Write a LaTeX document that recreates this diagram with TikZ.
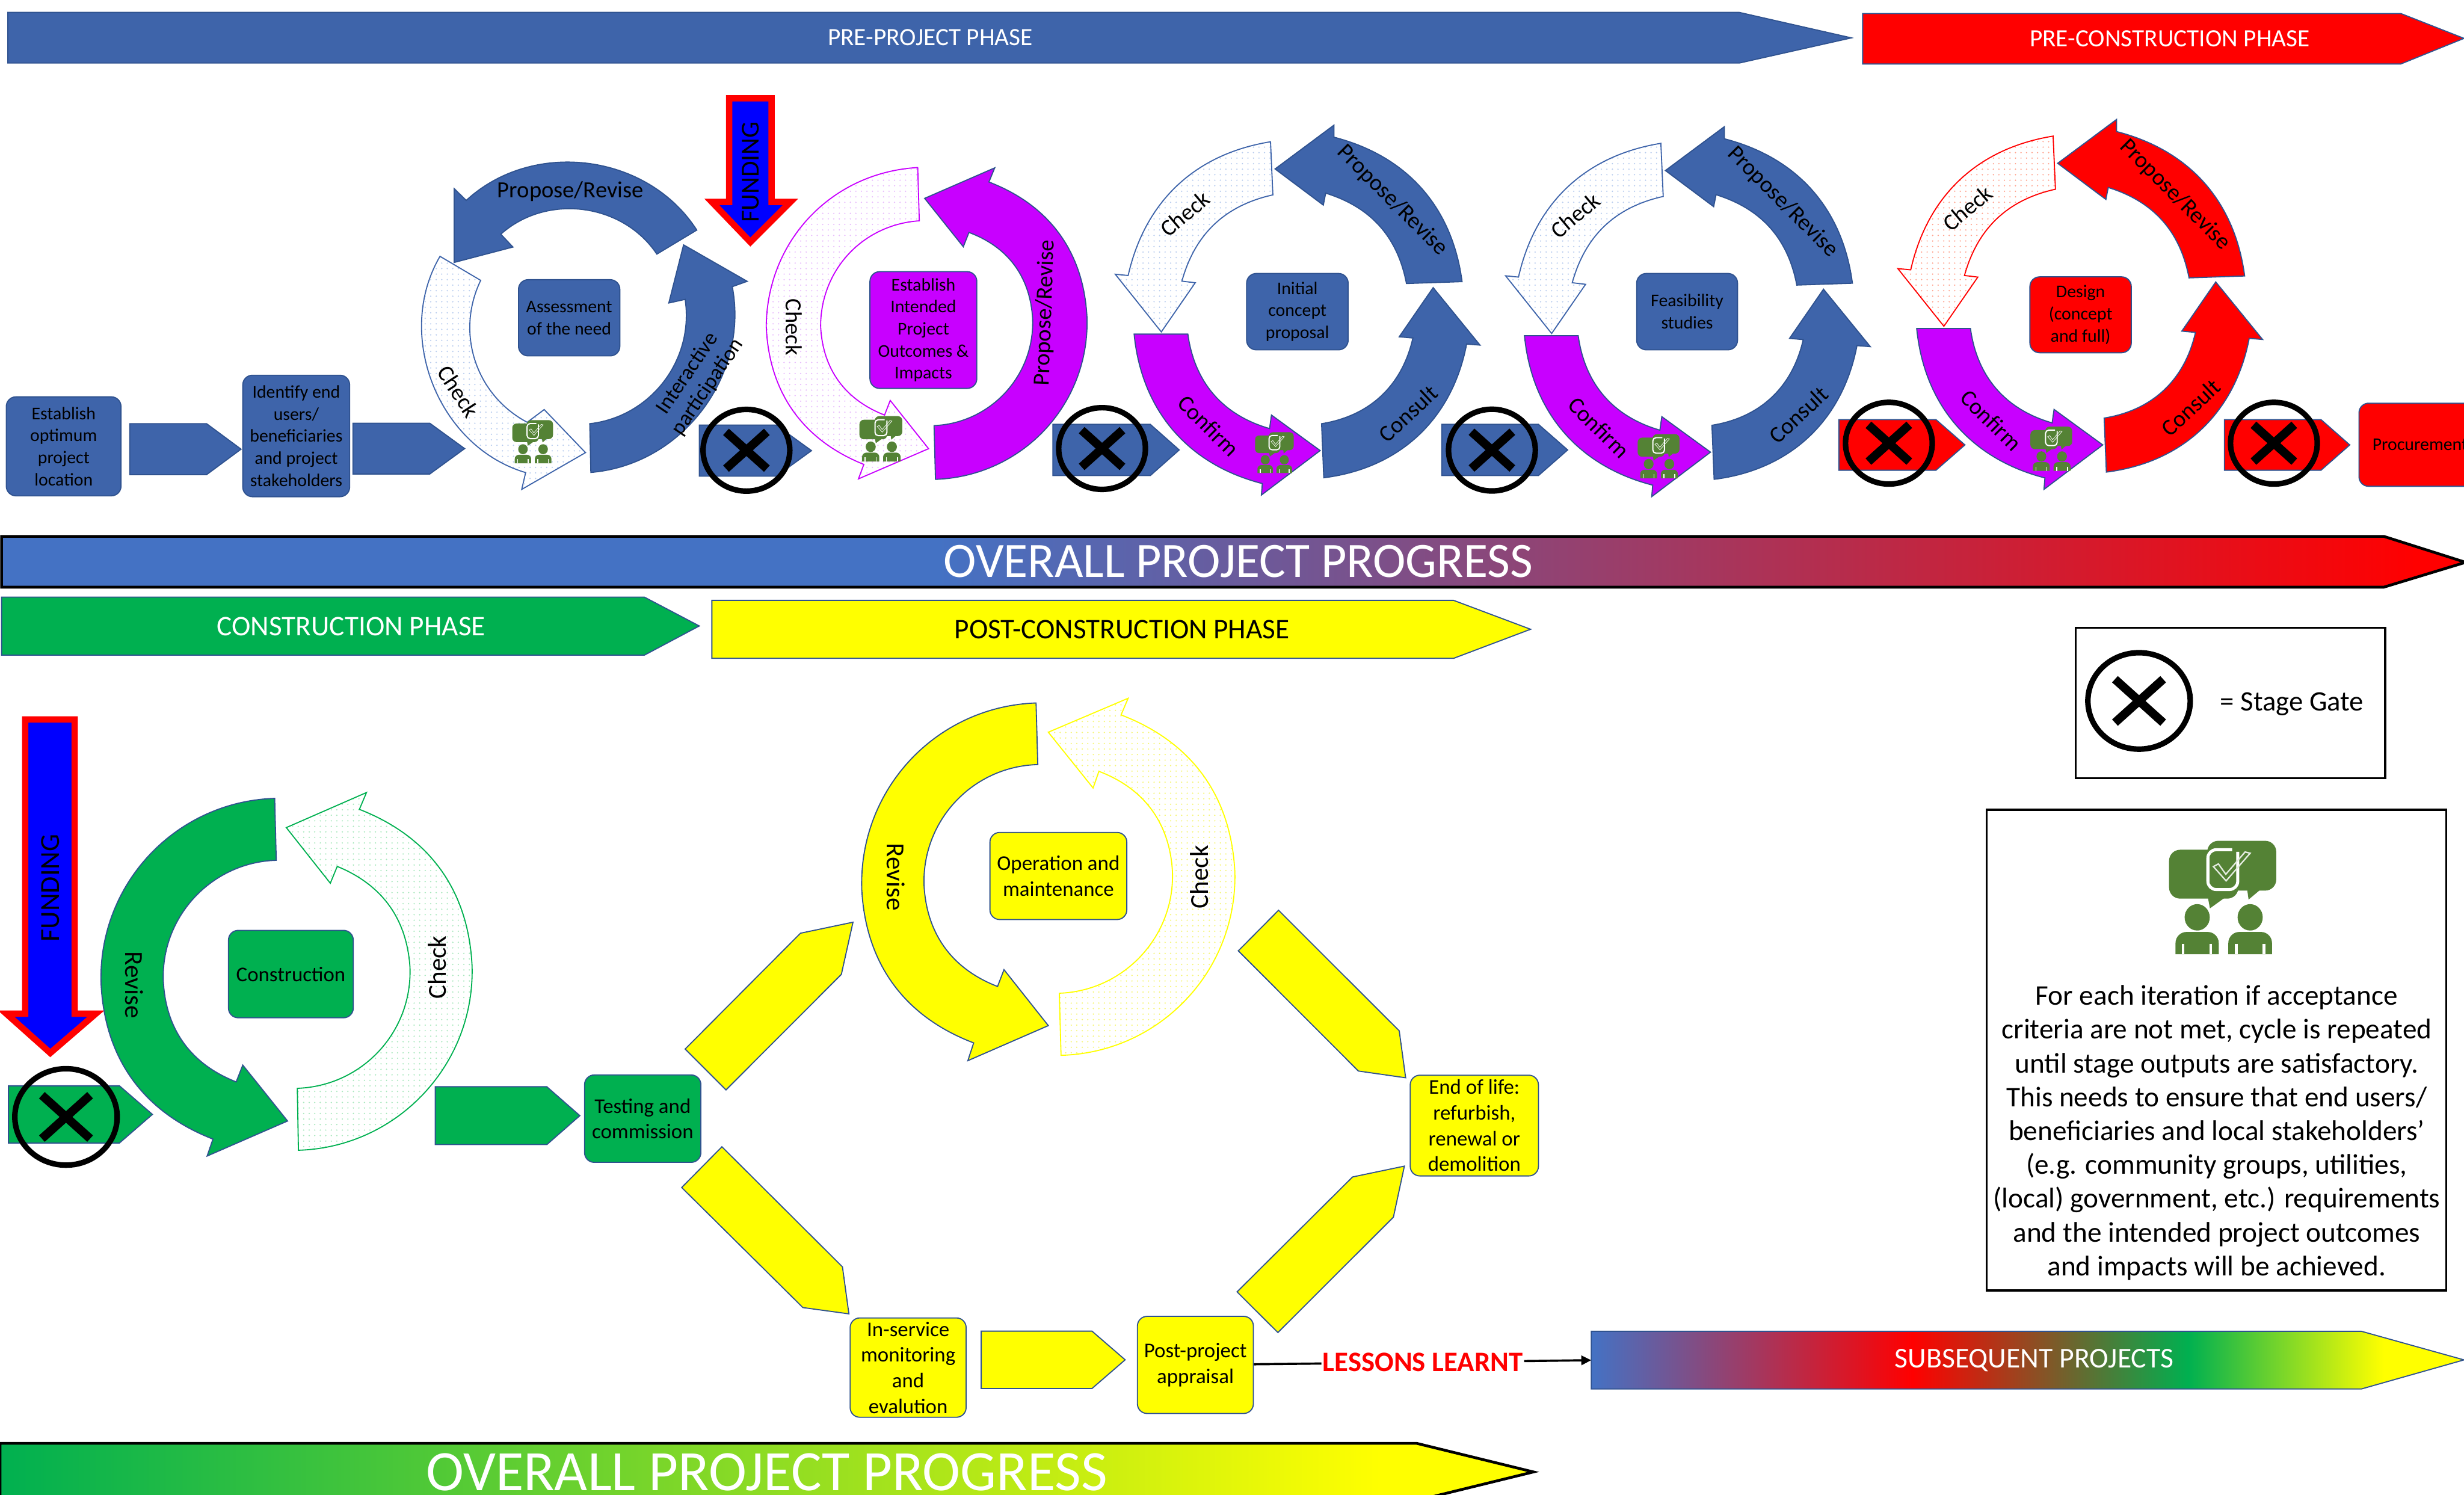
\documentclass[tikz,border=0pt]{standalone}
\usepackage{fontspec}
\setmainfont{Carlito}
\usepackage{xcolor}
\usetikzlibrary{arrows.meta,patterns.meta}
\definecolor{ringblue}{RGB}{62,100,170}
\definecolor{ringline}{RGB}{47,82,143}
\definecolor{barblue}{HTML}{4472C4}
\definecolor{purplemag}{RGB}{200,0,255}
\definecolor{stagegreen}{HTML}{00B050}
\definecolor{stageyellow}{HTML}{FFFF00}
\definecolor{icongreen}{HTML}{548235}
\definecolor{bluedot}{RGB}{185,205,238}
\definecolor{magdot}{RGB}{232,190,252}
\definecolor{reddot}{RGB}{255,165,145}
\definecolor{greendot}{RGB}{170,232,190}
\definecolor{yellowdot}{RGB}{245,245,120}
\pgfdeclarehorizontalshading{overallshade}{100bp}{color(0bp)=(barblue); color(44bp)=(barblue); color(74bp)=(red); color(100bp)=(red)}
\pgfdeclarehorizontalshading{buildshade}{100bp}{color(0bp)=(stagegreen); color(25bp)=(stagegreen); color(70bp)=(stageyellow); color(100bp)=(stageyellow)}
\pgfdeclarehorizontalshading{nextshade}{100bp}{color(0bp)=(barblue); color(25bp)=(barblue); color(43.4bp)=(red); color(59.2bp)=(stagegreen); color(70.4bp)=(stageyellow); color(100bp)=(stageyellow)}
\begin{document}
\begin{tikzpicture}[
    x=0.02cm, y=-0.02cm,
    plate/.style={fill=#1, draw=ringline, line width=0.4pt},
    ringarrow/.style={fill=#1, draw=ringline, line width=0.4pt},
    checkarrow/.style 2 args={draw=#1, line width=0.4pt, pattern={Dots[distance=2pt, radius=0.27pt]}, pattern color=#2},
    stagebox/.style n args={3}{fill=#1, draw=ringline, line width=0.4pt, rounded corners=3.5pt, align=center, inner sep=0pt, font=\fontsize{6.5}{8}\selectfont, minimum width=#2*0.02cm, minimum height=#3*0.02cm},
    biggerbox/.style={font=\fontsize{7.6}{9.3}\selectfont},
    looplabel/.style={font=\fontsize{8.4}{9.6}\selectfont, inner sep=0pt, align=center},
    biglabel/.style={font=\fontsize{9.4}{11}\selectfont, inner sep=0pt},
    barlabel/.style={font=\fontsize{9}{10}\selectfont, text=white, inner sep=0pt},
    fundarrow/.style={fill=blue, draw=red, line width=2.3pt, miter limit=10},
    stagegate/.pic={
      \draw[black, line width=2pt] (0,0) ellipse [x radius=27.6, y radius=26];
      \draw[black, line width=3.1pt] (-13,-11.7) -- (13,11.7) (-13,11.7) -- (13,-11.7);
    },
    talkicon/.pic={
      \begin{scope}[scale=#1]
        \fill[icongreen, rounded corners=#1*4pt] (-34.2,-30.3) rectangle (9.9,0.8);
        \fill[icongreen] (-9.5,0) -- (-8.2,7) -- (1.5,0) -- cycle;
        \fill[icongreen, rounded corners=#1*4pt] (-9.9,-36) rectangle (34,-4.3);
        \fill[icongreen] (15.5,-5) -- (16.4,1.4) -- (24,-5) -- cycle;
        \draw[white, line width=#1*1.1pt, rounded corners=#1*3pt] (9.5,-29) -- (9.5,-5) -- (-9.5,-5) -- (-9.5,-30.3) -- (6,-30.3);
        \draw[white!85!icongreen, line width=#1*0.5pt] (-6,-19.6) -- (2.1,-10.5) -- (17.4,-28.1) -- (14.2,-28.9) -- (1.9,-14.7) -- (-2.8,-21.3) -- cycle;
        \fill[icongreen] (-16.3,12.7) ellipse [x radius=8, y radius=8.4] (17.4,12.7) ellipse [x radius=8, y radius=8.4];
        \fill[icongreen] (-30.1,36.2) [rounded corners=#1*4pt] -- (-30.1,22) -- (-2.6,22) [sharp corners] -- (-2.6,36.2) -- cycle;
        \fill[icongreen] (3.5,36.2) [rounded corners=#1*4pt] -- (3.5,22) -- (31.3,22) [sharp corners] -- (31.3,36.2) -- cycle;
        \draw[white, line width=#1*0.9pt] (-25.2,29.5) -- (-25.2,36.2) (-7.6,29.5) -- (-7.6,36.2) (8.6,29.5) -- (8.6,36.2) (26.2,29.5) -- (26.2,36.2);
      \end{scope}
    }
  ]
    \useasboundingbox (0,0) rectangle (1568,951);

    \path[plate=ringblue] (5,7.9) -- (1106.9,7.9) -- (1178.2,24.1) -- (1106.9,40.1) -- (5,40.1) -- cycle;
    \node[barlabel] (preproject) at (592,24) {PRE-PROJECT PHASE};
    \path[plate=red] (1185.3,8.6) -- (1527.8,8.6) -- (1568,24.4) -- (1527.8,40.7) -- (1185.3,40.7) -- cycle;
    \node[barlabel] (preconstruction) at (1380.8,24.7) {PRE-CONSTRUCTION PHASE};

    \foreach \xa/\xb/\xc/\ya/\yb/\col in {82.6/131.5/153.4/269.6/302/ringblue, 224.6/273.5/295.7/269.3/301.6/ringblue, 445/494/516.4/270.5/303/ringblue, 670/732/750.4/270/302.6/ringblue, 917.5/979/997.6/270/302.6/ringblue, 1170.2/1232/1250.4/267/299.2/red, 1415.5/1477/1495.3/267/299.2/red, 5.4/76/97/690.9/727.3/stagegreen, 277/348/369/691.5/728.3/stagegreen, 624.4/694.9/716/847/883.5/stageyellow}
      \path[plate=\col] (\xa,\ya) -- (\xb,\ya) -- (\xc,{(\ya+\yb)/2}) -- (\xb,\yb) -- (\xa,\yb) -- cycle;

    \node[stagebox={ringblue}{73}{63}] (location) at (40.5,284) {Establish\\optimum\\project\\location};
    \node[stagebox={ringblue}{68}{77.3}] (identify) at (188.5,277.4) {Identify end\\users/\\beneficiaries\\and project\\stakeholders};

    \path[ringarrow=ringblue] (443.4,146.4) to[bend right=50] (296.7,127.5) -- (289,120) -- (289,167) -- (326.4,157.2) -- (318.7,149) to[bend left=49] (418,161.7) -- cycle;
    \path[ringarrow=ringblue] (376,300.6) to[bend right=48] (466,182.4) -- (475.5,179) -- (435,155.8) -- (425.6,192.8) -- (436,190.5) to[bend left=46] (375.3,269.6) -- cycle;
    \path[checkarrow={ringblue}{bluedot}] (280,163.1) to[bend right=52] (334.5,300.7) -- (332,311.4) -- (372.6,288) -- (346.3,260.6) -- (335.5,268.7) to[bend left=44] (305.9,178.4) -- cycle;
    \node[stagebox={ringblue}{64.5}{48.5}] (assessment) at (362.2,202.2) {Assessment\\of the need};
    \node[looplabel] (assessrevise) at (363,122) {Propose/Revise};
    \node[looplabel, rotate=-57] (assesscheck) at (291.7,249) {Check};
    \node[looplabel, rotate=56, font=\fontsize{7.8}{8.8}\selectfont] (assessinteract) at (444,242) {Interactive\\participation};
    \pic (talkone) at (339,281) {talkicon=0.38};

    \path[fundarrow] (464,62.5) -- (491,62.5) -- (491,128.5) -- (503,128.5) -- (477.5,154) -- (453,128.5) -- (464,128.5) -- cycle;
    \node[font=\fontsize{9.4}{11}\selectfont, inner sep=0pt, rotate=90] (fundingone) at (477.5,109.5) {FUNDING};

    \path[checkarrow={purplemag}{magdot}] (584,106.6) to[bend right=43] (487.6,207.4) to[bend right=33] (549.7,295.5) -- (546.3,304.7) -- (590.9,285.5) -- (566.5,254.8) -- (562.9,264.1) to[bend left=33] (522.2,207.4) to[bend left=43] (585,140.5) -- cycle;
    \path[ringarrow=purplemag] (595.3,305) to[bend right=45] (691.7,201.8) to[bend right=33] (629.3,115.8) -- (633,106.8) -- (588.4,126.2) -- (613,157) -- (616.6,147.9) to[bend left=33] (657.1,202.5) to[bend left=45] (594.4,270.8) -- cycle;
    \node[stagebox={purplemag}{68}{74.3}] (outcomes) at (587.6,210) {Establish\\Intended\\Project\\Outcomes \&\\Impacts};
    \node[looplabel, rotate=-90] (outcomecheck) at (505.1,208.1) {Check};
    \node[looplabel, rotate=88] (outcomerevise) at (665.1,199) {Propose/Revise};
    \pic (talktwo) at (560.6,279.2) {talkicon=0.4};

    \foreach \k/\dx/\dy/\ringcol/\dotcol in {a/0/0/ringblue/bluedot, b/248.4/1/ringblue/bluedot, c/498/-3.6/red/reddot}{
      \begin{scope}[shift={(\dx,\dy)}]
        \path[ringarrow=\ringcol] (930.4,179.2) to[bend right=34] (848.9,87.3) -- (848.9,79.6) -- (811.4,107.5) -- (842.1,130.5) -- (843.6,122.9) to[bend left=31] (895,180.4) -- cycle;
        \path[checkarrow={\ringcol}{\dotcol}] (808.5,90.2) to[bend right=34] (717.9,175.3) -- (709.7,174.5) -- (739,211.2) -- (760.6,179.9) -- (752.1,178.9) to[bend left=31] (810,124) -- cycle;
        \path[ringarrow=purplemag] (721.7,212.6) to[bend right=35] (803.3,307.7) -- (802.7,315) -- (840.1,286.7) -- (809.1,264.1) -- (807.9,272.7) to[bend left=33] (755.9,212.6) -- cycle;
        \path[ringarrow=\ringcol] (842.4,304) to[bend right=36] (933.3,218.9) -- (941.8,219.6) -- (912,183) -- (890.4,214.3) -- (899.1,215.1) to[bend left=34] (841,269.6) -- cycle;
        \node[looplabel, rotate=-45] (revise\k) at (886,127.5) {Propose/Revise};
        \node[looplabel, rotate=40] (check\k) at (754,136) {Check};
        \node[looplabel, rotate=-45] (confirm\k) at (769,271) {Confirm};
        \node[looplabel, rotate=43] (consult\k) at (896,263) {Consult};
      \end{scope}
    }
    \node[stagebox={ringblue}{64.6}{48.6}] (initial) at (825.6,198.3) {Initial\\concept\\proposal};
    \node[stagebox={ringblue}{64.2}{48.6}] (feasibility) at (1073.6,198.3) {Feasibility\\studies};
    \node[stagebox={red}{64.5}{48.3}] (design) at (1324,200.3) {Design\\(concept\\and full)};
    \pic (talkthree) at (811,288) {talkicon=0.36};
    \pic (talkfour) at (1055.5,290.3) {talkicon=0.39};
    \pic (talkfive) at (1305.4,285.5) {talkicon=0.39};
    \node[stagebox={red}{77.7}{52.9}] (procurement) at (1540,283) {Procurement};

    \foreach \k/\gx/\gy in {a/475/286.5, b/701.3/285.4, c/949.4/286.4, d/1202/282, e/1447/282}
      \pic (gate\k) at (\gx,\gy) {stagegate};

    \path[draw=black, line width=1pt, shading=overallshade] (1,341.3) -- (1517,341.3) -- (1569,357.8) -- (1517,373.6) -- (1,373.6) -- cycle;
    \node[barlabel, font=\fontsize{17.9}{20}\selectfont] (overallone) at (788,357.3) {OVERALL PROJECT PROGRESS};

    \path[plate=stagegreen] (1,379.9) -- (410,379.9) -- (445,398.3) -- (410,416.9) -- (1,416.9) -- cycle;
    \node[barlabel, font=\fontsize{10.3}{12}\selectfont] (construction) at (223.5,398.5) {CONSTRUCTION PHASE};
    \path[plate=stageyellow] (453,382) -- (925,382) -- (974,400.4) -- (925,418.9) -- (453,418.9) -- cycle;
    \node[barlabel, text=black, font=\fontsize{10.3}{12}\selectfont] (postconstruction) at (714,400.5) {POST-CONSTRUCTION PHASE};

    \path[fundarrow] (16,457.8) -- (47.5,457.8) -- (47.5,645) -- (61,645) -- (32,670) -- (4,645) -- (16,645) -- cycle;
    \node[font=\fontsize{10}{12}\selectfont, inner sep=0pt, rotate=90] (fundingtwo) at (32,565) {FUNDING};
    \pic[scale=1.18] (gatef) at (42,710.7) {stagegate};

    \path[ringarrow=stagegreen] (174.8,508) to[bend right=45] (64.3,625.7) to[bend right=33] (135.5,724.8) -- (131.8,735.6) -- (183,713.3) -- (154.5,677.7) -- (150.3,688.4) to[bend left=33] (103.9,623.7) to[bend left=45] (175.8,547.4) -- cycle;
    \path[checkarrow={stagegreen}{greendot}] (189.9,731.9) to[bend right=45] (300.4,614.6) to[bend right=33] (228.7,515) -- (233.2,504.3) -- (182.2,526.6) -- (210.2,562) -- (214.6,551.3) to[bend left=32] (260.9,615.6) to[bend left=45] (189.2,692.5) -- cycle;
    \node[stagebox={stagegreen}{79.4}{55.6}, biggerbox] (build) at (185.1,619.8) {Construction};
    \node[biglabel, rotate=-90] (buildrevise) at (85.3,626.7) {Revise};
    \node[biglabel, rotate=90] (buildcheck) at (278.2,615.6) {Check};

    \node[stagebox={stagegreen}{74}{55.6}, biggerbox] (testing) at (409,711.8) {Testing and\\commission};

    \path[ringarrow=stageyellow] (659.3,447.3) to[bend right=45] (548.4,566.2) to[bend right=33] (619.6,663.6) -- (615.9,674.9) -- (667.1,652.6) -- (638.9,617) -- (634.8,627.7) to[bend left=33] (588,562.9) to[bend left=45] (660.4,486.5) -- cycle;
    \path[checkarrow={stageyellow}{yellowdot}] (675.2,671.5) to[bend right=45] (785.8,554.6) to[bend right=33] (713.4,454.9) -- (717.9,444.3) -- (667.1,465.9) -- (695.6,501.4) -- (699.3,490.8) to[bend left=33] (746.1,554.6) to[bend left=45] (674.1,632) -- cycle;
    \node[stagebox={stageyellow}{87.1}{55.4}, biggerbox] (operation) at (673.5,557.4) {Operation and\\maintenance};
    \node[biglabel, rotate=-90] (operrevise) at (570,558) {Revise};
    \node[biglabel, rotate=90] (opercheck) at (763,558) {Check};

    \path[plate=stageyellow] (436,667.5) -- (509.4,593.8) -- (542.8,586.8) -- (535.4,620) -- (462,693.5) -- cycle;
    \path[plate=stageyellow] (459.4,729.7) -- (536.1,806.1) -- (540.2,836) -- (510.9,832) -- (433.8,755.6) -- cycle;
    \path[plate=stageyellow] (813.6,579.2) -- (890.4,655.9) -- (894.5,685.8) -- (864.4,681.5) -- (788,605) -- cycle;
    \path[plate=stageyellow] (787.2,822) -- (860.7,748.9) -- (893.7,742) -- (886.7,774.5) -- (813.2,847.9) -- cycle;

    \node[stagebox={stageyellow}{73.8}{63.2}, biggerbox] (inservice) at (577.9,870.2) {In-service\\monitoring\\and\\evalution};
    \node[stagebox={stageyellow}{73.8}{61.8}, biggerbox] (appraisal) at (760.7,868.5) {Post-project\\appraisal};
    \node[stagebox={stageyellow}{81.6}{64.1}, biggerbox] (endlife) at (938.2,716.2) {End of life:\\refurbish,\\renewal or\\demolition};

    \path[plate=white, shading=nextshade] (1012.6,847.1) -- (1502.7,847.1) -- (1568,865.3) -- (1502.7,883.8) -- (1012.6,883.8) -- cycle;
    \node[barlabel, font=\fontsize{10.4}{12}\selectfont] (subsequent) at (1294.5,865.5) {SUBSEQUENT PROJECTS};
    \coordinate (subsequentleft) at (1012.6,865.5);
    \node[font=\bfseries\fontsize{10.2}{12}\selectfont, text=red, inner sep=0.3pt] (lessons) at (905.4,866.9) {LESSONS LEARNT};
    \draw[line width=0.8pt] (appraisal) -- (lessons);
    \draw[line width=0.8pt, -{Triangle[length=3.6pt, width=3.4pt]}] (lessons) -- (subsequentleft);

    \path[draw=black, line width=1pt, shading=buildshade] (0,918.4) -- (901.5,918.4) -- (975.8,936.6) -- (901.5,954.8) -- (0,954.8) -- cycle;
    \node[barlabel, font=\fontsize{20.7}{23}\selectfont] (overalltwo) at (488,936.6) {OVERALL PROJECT PROGRESS};

    \node[draw=black, line width=0.7pt, minimum width=196.8*0.02cm, minimum height=95.7*0.02cm] (gatekey) at (1419.4,447.4) {};
    \pic[scale=1.18] (gatelegend) at (1361.2,446) {stagegate};
    \node[font=\fontsize{10.2}{12}\selectfont, inner sep=0pt] (gatetext) at (1458.5,448) {= Stage Gate};

    \node[draw=black, line width=0.7pt, minimum width=292.4*0.02cm, minimum height=305.9*0.02cm] (iterationkey) at (1410.4,668.2) {};
    \pic (talklegend) at (1414.5,571) {talkicon=1};
    \node[font=\fontsize{10.3}{12.25}\selectfont, align=center, inner sep=0pt] (iterationtext) at (1410.6,720.8) {For each iteration if acceptance\\criteria are not met, cycle is repeated\\until stage outputs are satisfactory.\\This needs to ensure that end users/\\beneficiaries and local stakeholders’\\(e.g. community groups, utilities,\\(local) government, etc.) requirements\\and the intended project outcomes\\and impacts will be achieved.};
  \end{tikzpicture}
\end{document}
